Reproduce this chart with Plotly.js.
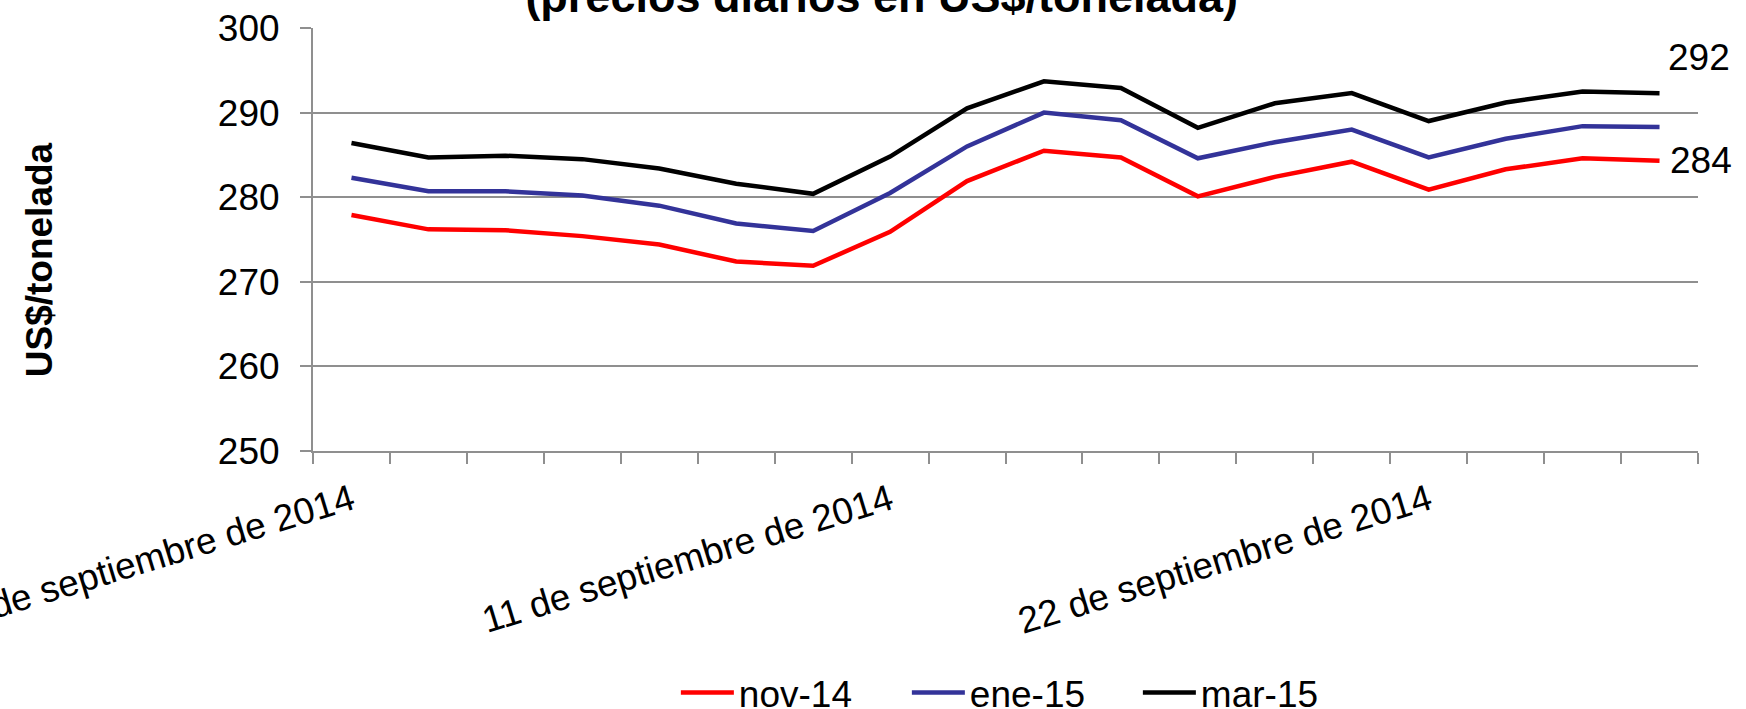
<!DOCTYPE html>
<html>
<head>
<meta charset="utf-8">
<script src="https://cdn.plot.ly/plotly-3.0.1.min.js"></script>
<style>html,body{margin:0;padding:0;background:#fff;}#chart{width:1746px;height:709px;}</style>
</head>
<body>
<div id="chart"></div>
<script>
const dates = [
  '2 de septiembre de 2014', '3 de septiembre de 2014', '4 de septiembre de 2014', '5 de septiembre de 2014',
  '8 de septiembre de 2014', '9 de septiembre de 2014', '10 de septiembre de 2014', '11 de septiembre de 2014',
  '12 de septiembre de 2014', '15 de septiembre de 2014', '16 de septiembre de 2014', '17 de septiembre de 2014',
  '18 de septiembre de 2014', '19 de septiembre de 2014', '22 de septiembre de 2014', '23 de septiembre de 2014',
  '24 de septiembre de 2014', '25 de septiembre de 2014'
];
const seriesNames = ['nov-14', 'ene-15', 'mar-15'];
const nov14 = [277.9, 276.2, 276.1, 275.4, 274.4, 272.4, 271.9, 275.9, 281.9, 285.5, 284.7, 280.1, 282.4, 284.2, 280.9, 283.3, 284.6, 284.3];
const ene15 = [282.3, 280.7, 280.7, 280.2, 279.0, 276.9, 276.0, 280.5, 286.0, 290.0, 289.1, 284.6, 286.5, 288.0, 284.7, 286.9, 288.4, 288.3];
const mar15 = [286.4, 284.7, 284.9, 284.5, 283.4, 281.6, 280.4, 284.8, 290.5, 293.7, 292.9, 288.2, 291.1, 292.3, 289.0, 291.2, 292.5, 292.3];
const labelEvery = 7;
const yTicks = [250, 260, 270, 280, 290, 300];

const FONT = 'Liberation Sans, Arial, sans-serif';
const GRID = '#8f8f8f';
const idx = dates.map((d, i) => i);
const colors = ['#ff0000', '#333399', '#000000'];
const values = [nov14, ene15, mar15];

const traces = values.map((v, k) => ({
  type: 'scatter', mode: 'lines', name: seriesNames[k],
  x: idx, y: v, xaxis: 'x', yaxis: 'y',
  line: {color: colors[k], width: 4.5},
  hoverinfo: 'skip'
}));

const boundaries = idx.concat([dates.length]).map(i => i - 0.5);
const labelIdx = idx.filter(i => i % labelEvery === 0);
const n = dates.length - 1;
const NB = '\u00A0';

const layout = {
  width: 1746, height: 709,
  margin: {l: 313, r: 48, t: 28, b: 258, autoexpand: false},
  paper_bgcolor: '#ffffff', plot_bgcolor: '#ffffff',
  font: {family: FONT, color: '#000', size: 37},
  title: {
    text: '<span style="font-size:45px"><b>(precios diarios en US$/tonelada)</b></span>',
    font: {family: FONT, size: 33, color: '#000'},
    x: 0.505, xref: 'container', xanchor: 'center',
    y: 1, yref: 'container', yanchor: 'middle'
  },
  showlegend: true,
  legend: {
    orientation: 'h', x: 0.262, xanchor: 'left', y: -0.572, yanchor: 'middle',
    font: {family: FONT, size: 37, color: '#000'},
    itemwidth: 53, entrywidth: 163, bgcolor: 'rgba(0,0,0,0)'
  },
  xaxis: {
    type: 'linear', range: [-0.5, dates.length - 0.5],
    tickmode: 'array', tickvals: boundaries, showticklabels: false,
    ticks: 'outside', ticklen: 11, tickwidth: 2, tickcolor: GRID,
    showline: true, linecolor: GRID, linewidth: 2,
    showgrid: false, zeroline: false, fixedrange: true
  },
  xaxis2: {
    type: 'linear', overlaying: 'x', anchor: 'y', side: 'bottom',
    range: [-0.5, dates.length - 0.5],
    tickmode: 'array', tickvals: labelIdx, ticktext: labelIdx.map(i => dates[i]),
    tickangle: -17, ticks: '', showline: false, showgrid: false, zeroline: false,
    ticklabeloverflow: 'allow', ticklabelstandoff: 20,
    tickfont: {family: FONT, size: 37, color: '#000'}, fixedrange: true
  },
  yaxis: {
    range: [250, 300], tickmode: 'array', tickvals: yTicks,
    ticks: 'outside', ticklen: 11, tickwidth: 2, tickcolor: GRID,
    showline: true, linecolor: GRID, linewidth: 2,
    showgrid: true, gridcolor: GRID, gridwidth: 2, zeroline: false,
    ticklabelstandoff: 13,
    tickfont: {family: FONT, size: 37, color: '#000'},
    title: {text: '<b>US$/tonelada' + NB + NB + NB + NB + '</b>', font: {family: FONT, size: 37, color: '#000'}, standoff: 154},
    automargin: false, fixedrange: true
  },
  annotations: [
    {x: n, y: mar15[n], xref: 'x', yref: 'y', text: String(Math.round(mar15[n])),
     showarrow: false, xanchor: 'left', yanchor: 'middle', xshift: 6, yshift: 36,
     font: {family: FONT, size: 37, color: '#000'}},
    {x: n, y: nov14[n], xref: 'x', yref: 'y', text: String(Math.round(nov14[n])),
     showarrow: false, xanchor: 'left', yanchor: 'middle', xshift: 8, yshift: 0,
     font: {family: FONT, size: 37, color: '#000'}}
  ]
};

traces.push({type: 'scatter', mode: 'none', x: [], y: [], xaxis: 'x2', yaxis: 'y', showlegend: false, hoverinfo: 'skip'});

Plotly.newPlot('chart', traces, layout, {staticPlot: true, displayModeBar: false});
</script>
</body>
</html>
